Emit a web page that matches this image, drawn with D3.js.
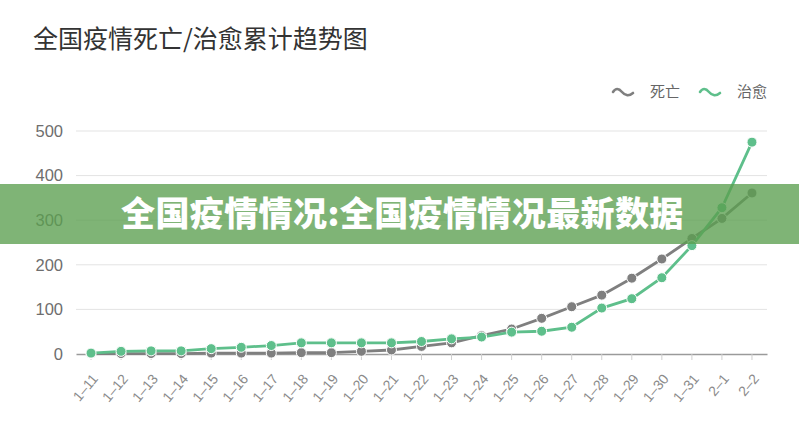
<!DOCTYPE html>
<html>
<head>
<meta charset="utf-8">
<script src="https://cdn.jsdelivr.net/npm/d3@7"></script>
<style>
  body { margin: 0; background: #fff; }
  svg { display: block; font-family: "Liberation Sans", "Noto Sans CJK SC", sans-serif; }
  .grid line { stroke: #e3e3e3; stroke-width: 1; }
  .y.axis text { fill: #6e6e6e; font-size: 16.5px; }
  .x.axis text { fill: #8a8a8a; font-size: 14px; }
  .x.axis line { stroke: #cfcfcf; }
  .x.axis path { stroke: #9a9a9a; stroke-width: 1.5; }
</style>
</head>
<body>
<div id="chart"></div>
<script>
/*global d3*/
(function () {
    "use strict";

    var dates = ["1-11", "1-12", "1-13", "1-14", "1-15", "1-16", "1-17", "1-18", "1-19",
        "1-20", "1-21", "1-22", "1-23", "1-24", "1-25", "1-26", "1-27", "1-28", "1-29",
        "1-30", "1-31", "2-1", "2-2"],
        deaths = [1, 1, 1, 1, 2, 2, 2, 3, 3, 6, 9, 17, 25, 41, 56, 80, 106, 132, 170,
            213, 259, 304, 361],
        cured = [2, 6, 7, 7, 12, 15, 19, 25, 25, 25, 25, 28, 34, 38, 49, 51, 60, 103, 124,
            171, 243, 328, 475],
        yTicks = [0, 100, 200, 300, 400, 500],
        seriesNames = ["死亡", "治愈"],
        colors = ["#7f7f7f", "#5ebf8b"],

        W = 799,
        H = 433,

        x = d3.scaleBand()
            .domain(dates)
            .range([76, 767]),

        y = d3.scaleLinear()
            .domain([0, 500])
            .range([354, 131]),

        svg = d3.select("#chart").append("svg")
            .attr("width", W)
            .attr("height", H),

        line = d3.line()
            .x(function (d, i) { return x(dates[i]) + x.bandwidth() / 2; })
            .y(function (d) { return y(d); });

    // title
    svg.append("text")
        .attr("x", 33)
        .attr("y", 48)
        .attr("fill", "#333")
        .style("font-family", "'Noto Sans CJK SC', sans-serif")
        .style("font-size", "25px")
        .text("全国疫情死亡/治愈累计趋势图");

    // gridlines
    svg.append("g").attr("class", "grid")
        .selectAll("line")
        .data(yTicks.slice(1))
        .enter().append("line")
        .attr("x1", x.range()[0])
        .attr("x2", x.range()[1])
        .attr("y1", function (d) { return y(d); })
        .attr("y2", function (d) { return y(d); });

    // y axis labels only
    svg.append("g")
        .attr("class", "y axis")
        .attr("transform", "translate(63,0)")
        .call(d3.axisLeft(y).tickValues(yTicks).tickSize(0).tickPadding(0))
        .call(function (g) { g.select(".domain").remove(); });

    // x axis
    var xAxis = svg.append("g")
        .attr("class", "x axis")
        .attr("transform", "translate(0," + y(0) + ")")
        .call(d3.axisBottom(x).tickSizeOuter(0).tickSizeInner(6));
    xAxis.selectAll(".tick text")
        .attr("text-anchor", "end")
        .attr("x", 0)
        .attr("y", 0)
        .attr("dy", "0.35em")
        .attr("transform", "translate(4,22) rotate(-50)")
        .text(function (d) { return d.replace("-", "–"); });

    // series
    [deaths, cured].forEach(function (vals, k) {
        var g = svg.append("g");
        g.append("path")
            .datum(vals)
            .attr("fill", "none")
            .attr("stroke", colors[k])
            .attr("stroke-width", 2.8)
            .attr("d", line);
        g.selectAll("circle")
            .data(vals)
            .enter().append("circle")
            .attr("cx", function (d, i) { return x(dates[i]) + x.bandwidth() / 2; })
            .attr("cy", function (d) { return y(d); })
            .attr("r", 5)
            .attr("fill", colors[k])
            .attr("stroke", "#fff")
            .attr("stroke-width", 1);
    });

    // legend
    var legendX = [613, 700],
        legend = svg.append("g");
    seriesNames.forEach(function (name, k) {
        var p = d3.path(),
            x0 = legendX[k],
            yc = 92;
        p.moveTo(x0, yc);
        p.quadraticCurveTo(x0 + 4, yc - 6, x0 + 9, yc);
        p.quadraticCurveTo(x0 + 14, yc + 6, x0 + 20, yc + 1);
        legend.append("path")
            .attr("d", p.toString())
            .attr("fill", "none")
            .attr("stroke", colors[k])
            .attr("stroke-width", 2.6)
            .attr("stroke-linecap", "round");
        legend.append("text")
            .attr("x", x0 + 37)
            .attr("y", yc)
            .attr("dy", "0.35em")
            .attr("fill", "#666")
            .style("font-family", "'Noto Sans CJK SC', sans-serif")
            .style("font-size", "15px")
            .text(name);
    });

    // banner overlay
    svg.append("rect")
        .attr("x", 0)
        .attr("y", 184)
        .attr("width", W)
        .attr("height", 60)
        .attr("fill", "#5b9f50")
        .attr("opacity", 0.78);
    svg.append("text")
        .attr("x", 121)
        .attr("y", 214)
        .attr("dy", "0.35em")
        .attr("fill", "#fff")
        .style("font-family", "'Noto Sans CJK SC', sans-serif")
        .style("font-weight", 900)
        .style("font-size", "34px")
        .style("letter-spacing", "0.4px")
        .text("全国疫情情况:全国疫情情况最新数据");
}());
</script>
</body>
</html>
